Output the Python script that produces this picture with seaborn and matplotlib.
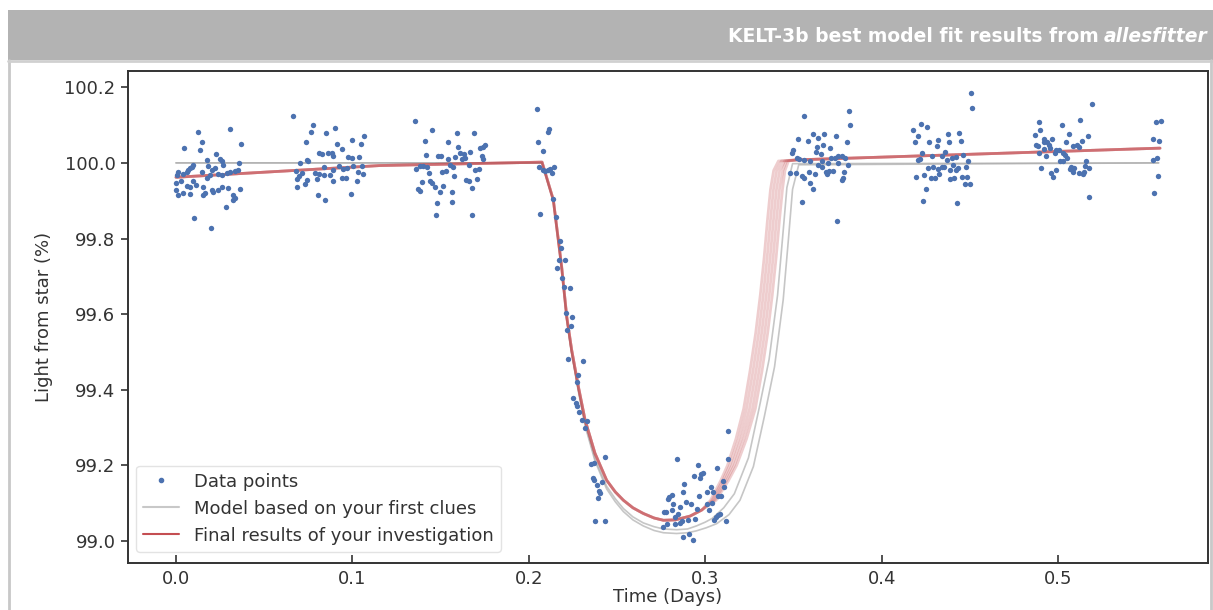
import matplotlib
matplotlib.use("Agg")
import matplotlib.pyplot as plt
import seaborn as sns
import pandas as pd
from matplotlib.lines import Line2D
from matplotlib.patches import Rectangle

# --- measured light curve (time in days, light from star in %), grouped by observing chunk
c1_t = [0.0127, 0.0306, 0.0146, 0.0047, 0.0136, 0.0368, 0.0227, 0.0249, 0.0259, 0.0174,
        0.0098, 0.0089, 0.0079, 0.0070, 0.0060, 0.0013, 0.0004, 0.0042, 0.0146, 0.0202,
        0.0221, 0.0268, 0.0259, 0.0240, 0.0287, 0.0306, 0.0334, 0.0353, 0.0359, 0.0026,
        0.0098, 0.0113, 0.0079, 0.0060, 0.0174, 0.0193, 0.0155, 0.0202, 0.0164, 0.0212,
        0.0240, 0.0259, 0.0297, 0.0363, 0.0000, 0.0013, 0.0042, 0.0079, 0.0155, 0.0325,
        0.0334, 0.0321, 0.0283, 0.0102, 0.0197, 0.0000, 0.0183]
c1_f = [100.083, 100.090, 100.056, 100.039, 100.034, 100.050, 100.024, 100.010, 100.004, 100.008,
        99.995, 99.990, 99.986, 99.981, 99.977, 99.977, 99.968, 99.971, 99.977, 99.981,
        99.986, 99.995, 99.968, 99.971, 99.973, 99.977, 99.979, 99.981, 99.999, 99.951,
        99.951, 99.942, 99.936, 99.939, 99.959, 99.968, 99.937, 99.929, 99.920, 99.924,
        99.929, 99.937, 99.933, 99.930, 99.929, 99.915, 99.920, 99.917, 99.915, 99.915,
        99.907, 99.902, 99.883, 99.854, 99.827, 99.948, 99.992]

c2_t = [0.0665, 0.0775, 0.0763, 0.0901, 0.0848, 0.1066, 0.0735, 0.0998, 0.0913, 0.1050,
        0.0939, 0.0813, 0.0830, 0.0864, 0.0887, 0.0892, 0.0977, 0.0996, 0.1038, 0.0741,
        0.0750, 0.0703, 0.0680, 0.0713, 0.0699, 0.0790, 0.0808, 0.0837, 0.0839, 0.0873,
        0.0892, 0.0926, 0.0945, 0.0967, 0.1005, 0.1052, 0.1033, 0.1058, 0.0939, 0.0964,
        0.0888, 0.0798, 0.0684, 0.0688, 0.0731, 0.1024, 0.0803, 0.0845, 0.0992, 0.0741]
c2_f = [100.124, 100.101, 100.083, 100.093, 100.080, 100.072, 100.054, 100.061, 100.049, 100.050,
        100.036, 100.026, 100.024, 100.027, 100.026, 100.019, 100.015, 100.012, 100.015, 100.008,
        100.004, 99.999, 99.979, 99.973, 99.966, 99.974, 99.971, 99.990, 99.968, 99.968,
        99.981, 99.993, 99.983, 99.986, 99.992, 99.992, 99.977, 99.971, 99.959, 99.959,
        99.952, 99.958, 99.957, 99.936, 99.944, 99.951, 99.914, 99.902, 99.917, 99.955]

c3_t = [0.1355, 0.1453, 0.1412, 0.1595, 0.1691, 0.1544, 0.1601, 0.1723, 0.1752, 0.1738,
        0.1417, 0.1487, 0.1500, 0.1540, 0.1582, 0.1610, 0.1632, 0.1666, 0.1619, 0.1638,
        0.1733, 0.1742, 0.1361, 0.1383, 0.1402, 0.1421, 0.1553, 0.1572, 0.1663, 0.1695,
        0.1719, 0.1436, 0.1506, 0.1531, 0.1578, 0.1440, 0.1453, 0.1469, 0.1515, 0.1393,
        0.1374, 0.1383, 0.1497, 0.1563, 0.1644, 0.1663, 0.1676, 0.1704, 0.1482, 0.1567,
        0.1474, 0.1680]
c3_f = [100.112, 100.086, 100.059, 100.080, 100.080, 100.056, 100.041, 100.039, 100.048, 100.043,
        100.021, 100.017, 100.019, 100.011, 100.015, 100.026, 100.023, 100.028, 100.011, 100.012,
        100.017, 100.011, 99.984, 99.993, 99.993, 99.988, 99.995, 99.988, 99.995, 99.981,
        99.984, 99.973, 99.975, 99.979, 99.966, 99.952, 99.946, 99.937, 99.940, 99.949,
        99.930, 99.927, 99.924, 99.922, 99.955, 99.951, 99.933, 99.958, 99.893, 99.896,
        99.861, 99.861]

# ingress and bottom of the transit
tr_t = [0.2045, 0.2107, 0.2115, 0.2050, 0.2078, 0.2059, 0.2078, 0.2092, 0.2111, 0.2130,
        0.2143, 0.2120, 0.2063, 0.2135, 0.2154, 0.2177, 0.2183, 0.2173, 0.2205, 0.2162,
        0.2188, 0.2201, 0.2234, 0.2211, 0.2247, 0.2239, 0.2218, 0.2224, 0.2309, 0.2281,
        0.2271, 0.2253, 0.2268, 0.2271, 0.2285, 0.2300, 0.2332, 0.2319, 0.2434, 0.2351,
        0.2372, 0.2362, 0.2370, 0.2385, 0.2413, 0.2400, 0.2404, 0.2395, 0.2374, 0.2432]
tr_f = [100.142, 100.083, 100.089, 100.054, 100.032, 99.988, 99.981, 99.979, 99.981, 99.973,
        99.988, 99.984, 99.865, 99.905, 99.856, 99.794, 99.774, 99.742, 99.743, 99.723,
        99.695, 99.671, 99.669, 99.602, 99.592, 99.569, 99.558, 99.481, 99.476, 99.439,
        99.421, 99.377, 99.364, 99.357, 99.340, 99.320, 99.318, 99.298, 99.223, 99.204,
        99.206, 99.167, 99.161, 99.148, 99.157, 99.133, 99.128, 99.115, 99.054, 99.053]

bot_t = [0.2842, 0.2957, 0.3131, 0.3127, 0.3069, 0.2938, 0.2976, 0.2985, 0.2970, 0.2882,
         0.3103, 0.3109, 0.3031, 0.3008, 0.3046, 0.2967, 0.3074, 0.3090, 0.2797, 0.2810,
         0.2876, 0.2791, 0.2819, 0.2857, 0.2891, 0.2919, 0.3008, 0.3036, 0.3023, 0.2952,
         0.2778, 0.2768, 0.2810, 0.2848, 0.2829, 0.3084, 0.3074, 0.3061, 0.3052, 0.3116,
         0.2904, 0.2942, 0.2867, 0.2857, 0.2831, 0.2782, 0.2763, 0.2873, 0.2910, 0.2929]
bot_f = [99.218, 99.201, 99.292, 99.216, 99.192, 99.172, 99.177, 99.181, 99.166, 99.151,
         99.159, 99.144, 99.142, 99.130, 99.130, 99.119, 99.119, 99.119, 99.117, 99.122,
         99.130, 99.111, 99.098, 99.091, 99.104, 99.098, 99.098, 99.101, 99.082, 99.084,
         99.076, 99.076, 99.082, 99.071, 99.064, 99.071, 99.069, 99.063, 99.055, 99.053,
         99.055, 99.058, 99.053, 99.049, 99.044, 99.045, 99.037, 99.012, 99.018, 99.002]

c4_t = [0.3815, 0.3821, 0.3562, 0.3613, 0.3675, 0.3741, 0.3528, 0.3581, 0.3641, 0.3806,
        0.3632, 0.3670, 0.3707, 0.3500, 0.3494, 0.3628, 0.3654, 0.3519, 0.3534, 0.3711,
        0.3736, 0.3755, 0.3777, 0.3792, 0.3594, 0.3559, 0.3660, 0.3641, 0.3660, 0.3698,
        0.3755, 0.3811, 0.3684, 0.3703, 0.3726, 0.3688, 0.3787, 0.3481, 0.3513, 0.3590,
        0.3622, 0.3549, 0.3558, 0.3779, 0.3774, 0.3594, 0.3609, 0.3547, 0.3745]
c4_f = [100.138, 100.099, 100.123, 100.077, 100.077, 100.071, 100.063, 100.059, 100.065, 100.054,
        100.043, 100.046, 100.039, 100.034, 100.026, 100.030, 100.023, 100.012, 100.011, 100.014,
        100.014, 100.017, 100.019, 100.014, 100.005, 100.008, 100.005, 99.995, 99.988, 99.999,
        99.999, 99.995, 99.977, 99.979, 99.979, 99.971, 99.975, 99.974, 99.973, 99.977,
        99.971, 99.966, 99.961, 99.961, 99.955, 99.946, 99.930, 99.896, 99.847]

c5_t = [0.4507, 0.4515, 0.4222, 0.4256, 0.4180, 0.4204, 0.4375, 0.4441, 0.4189, 0.4269,
        0.4318, 0.4382, 0.4450, 0.4316, 0.4227, 0.4284, 0.4341, 0.4359, 0.4463, 0.4208,
        0.4218, 0.4369, 0.4397, 0.4422, 0.4492, 0.4403, 0.4261, 0.4293, 0.4321, 0.4341,
        0.4356, 0.4388, 0.4435, 0.4478, 0.4420, 0.4193, 0.4240, 0.4278, 0.4304, 0.4327,
        0.4388, 0.4410, 0.4458, 0.4482, 0.4472, 0.4501, 0.4252, 0.4233, 0.4425]
c5_f = [100.184, 100.145, 100.102, 100.096, 100.086, 100.071, 100.076, 100.078, 100.054, 100.055,
        100.061, 100.055, 100.058, 100.045, 100.026, 100.019, 100.019, 100.029, 100.021, 100.008,
        100.010, 100.008, 100.012, 100.015, 100.004, 99.995, 99.986, 99.990, 99.983, 99.988,
        99.989, 99.981, 99.986, 99.989, 99.980, 99.962, 99.968, 99.959, 99.959, 99.971,
        99.958, 99.959, 99.964, 99.964, 99.944, 99.944, 99.930, 99.898, 99.893]

c6_t = [0.5191, 0.5125, 0.4892, 0.4898, 0.5024, 0.4870, 0.5062, 0.5172, 0.4922, 0.4964,
        0.5045, 0.5138, 0.4936, 0.4875, 0.4888, 0.4918, 0.4950, 0.5083, 0.5110, 0.5121,
        0.4920, 0.4954, 0.4988, 0.5007, 0.4890, 0.4983, 0.5030, 0.5039, 0.4932, 0.5052,
        0.5011, 0.5030, 0.5159, 0.5150, 0.5178, 0.5073, 0.5092, 0.5068, 0.5083, 0.5121,
        0.5144, 0.5149, 0.4902, 0.4988, 0.4960, 0.4973, 0.5178]
c6_f = [100.155, 100.114, 100.107, 100.087, 100.099, 100.074, 100.077, 100.072, 100.063, 100.063,
        100.056, 100.059, 100.056, 100.048, 100.045, 100.054, 100.048, 100.045, 100.048, 100.041,
        100.036, 100.039, 100.033, 100.033, 100.026, 100.026, 100.026, 100.021, 100.017, 100.012,
        100.006, 100.004, 100.004, 99.992, 99.986, 99.990, 99.986, 99.983, 99.977, 99.973,
        99.971, 99.977, 99.986, 99.981, 99.973, 99.962, 99.911]

c7_t = [0.5555, 0.5584, 0.5540, 0.5574, 0.5536, 0.5563, 0.5568, 0.5544]
c7_f = [100.109, 100.112, 100.063, 100.058, 100.008, 100.012, 99.966, 99.920]

# --- "first clues" models (grey)
clue_t = [
    [0.0, 0.2075, 0.2139, 0.2186, 0.2215, 0.2243, 0.2281, 0.2319, 0.2375, 0.2441, 0.2490,
     0.2536, 0.2590, 0.2649, 0.2710, 0.2763, 0.2838, 0.2900, 0.2950, 0.3005, 0.3065, 0.3135,
     0.3197, 0.3273, 0.3335, 0.3393, 0.3442, 0.3472, 0.3495, 0.3530, 0.5570],
    [0.0, 0.2075, 0.2139, 0.2186, 0.2215, 0.2243, 0.2281, 0.2319, 0.2375, 0.2441, 0.2490,
     0.2536, 0.2590, 0.2649, 0.2710, 0.2763, 0.2838, 0.2900, 0.2950, 0.3000, 0.3040, 0.3105,
     0.3165, 0.3245, 0.3305, 0.3362, 0.3410, 0.3440, 0.3463, 0.3495, 0.5570],
]
clue_f = [
    [100.0, 100.0, 99.900, 99.720, 99.585, 99.495, 99.395, 99.305, 99.212, 99.138, 99.104,
     99.078, 99.056, 99.040, 99.028, 99.022, 99.020, 99.022, 99.027, 99.035, 99.046, 99.070,
     99.108, 99.197, 99.329, 99.461, 99.638, 99.800, 99.930, 99.995, 100.0],
    [100.0, 100.0, 99.900, 99.722, 99.588, 99.499, 99.400, 99.310, 99.218, 99.145, 99.112,
     99.086, 99.064, 99.048, 99.038, 99.032, 99.030, 99.032, 99.040, 99.050, 99.060, 99.088,
     99.125, 99.220, 99.350, 99.480, 99.650, 99.810, 99.935, 99.998, 100.0],
]

# --- final fit (red): common baseline/ingress, posterior samples differ on egress
fit_pre_t = [0.0, 0.1156, 0.2075, 0.2139, 0.2186, 0.2215, 0.2243, 0.2281, 0.2319, 0.2375,
             0.2441, 0.2490, 0.2536, 0.2590, 0.2649, 0.2710, 0.2763, 0.2830, 0.2914, 0.2980]
fit_pre_f = [99.962, 99.993, 100.002, 99.902, 99.726, 99.593, 99.505, 99.408, 99.320, 99.232,
             99.161, 99.130, 99.108, 99.088, 99.073, 99.061, 99.055, 99.056, 99.066, 99.082]
fit_egress_f = [99.108, 99.160, 99.200, 99.270, 99.350, 99.450, 99.550, 99.650, 99.750,
                99.850, 99.930, 99.980, 100.005]
fit_egress_t = [
    [0.3030, 0.3088, 0.3126, 0.3174, 0.3218, 0.3254, 0.3286, 0.3312, 0.3334, 0.3353, 0.3370, 0.3388, 0.3415],
    [0.3038, 0.3099, 0.3139, 0.3189, 0.3234, 0.3271, 0.3303, 0.3329, 0.3351, 0.3370, 0.3387, 0.3405, 0.3432],
    [0.3046, 0.3110, 0.3152, 0.3204, 0.3251, 0.3288, 0.3320, 0.3346, 0.3368, 0.3387, 0.3404, 0.3422, 0.3450],
    [0.3054, 0.3121, 0.3165, 0.3219, 0.3268, 0.3305, 0.3337, 0.3363, 0.3385, 0.3404, 0.3421, 0.3439, 0.3460],
    [0.3062, 0.3132, 0.3178, 0.3234, 0.3284, 0.3322, 0.3354, 0.3380, 0.3402, 0.3421, 0.3438, 0.3452, 0.3472],
]
fit_post_t = [0.3520, 0.5578]
fit_post_f = [100.008, 100.039]

x_ticks = [0.0, 0.1, 0.2, 0.3, 0.4, 0.5]
y_ticks = [99.0, 99.2, 99.4, 99.6, 99.8, 100.0, 100.2]

BLUE = "#4c72b0"
RED = "#c44e52"
GREY = "#a8a8a8"
INK = "#333333"

sns.set_theme(style="ticks")
plt.rcParams['font.family'] = ['DejaVu Sans']

W, H = 1213, 610
fig = plt.figure(figsize=(W / 100, H / 100), dpi=100)
ax = fig.add_axes([128 / W, 1 - 563 / H, 1080 / W, 492 / H])

# page chrome: grey banner + frame lines
fig.patches.append(Rectangle((8 / W, 1 - 60 / H), 1205 / W, 50 / H, transform=fig.transFigure,
                             facecolor="#b3b3b3", edgecolor="none", zorder=0))
fig.add_artist(Line2D([9 / W, 9 / W], [0, 1 - 60 / H], transform=fig.transFigure, color="#c8c8c8", lw=2))
fig.add_artist(Line2D([8 / W, 1], [1 - 61 / H, 1 - 61 / H], transform=fig.transFigure, color="#d0d0d0", lw=2))
fig.add_artist(Line2D([1211 / W, 1211 / W], [0, 1 - 60 / H], transform=fig.transFigure, color="#c8c8c8", lw=2))

for t, f in zip(clue_t, clue_f):
    sns.lineplot(x=t, y=f, ax=ax, sort=False, estimator=None, color=GREY, lw=1.2, alpha=0.65, zorder=2)

for et in fit_egress_t:
    t = fit_pre_t + et + fit_post_t
    f = fit_pre_f + fit_egress_f + fit_post_f
    sns.lineplot(x=t, y=f, ax=ax, sort=False, estimator=None, color=RED, lw=2.0, alpha=0.28, zorder=2.5)

pts = pd.DataFrame({
    "time": c1_t + c2_t + c3_t + tr_t + bot_t + c4_t + c5_t + c6_t + c7_t,
    "flux": c1_f + c2_f + c3_f + tr_f + bot_f + c4_f + c5_f + c6_f + c7_f,
})
sns.scatterplot(data=pts, x="time", y="flux", ax=ax, color=BLUE, s=15, linewidth=0, zorder=3)

ax.set_xlim(-0.0272, 0.585)
ax.set_ylim(98.942, 100.243)
ax.set_xticks(x_ticks)
ax.set_yticks(y_ticks)
ax.set_xticklabels([f"{v:.1f}" for v in x_ticks])
ax.set_yticklabels([f"{v:.1f}" for v in y_ticks])
ax.tick_params(axis="x", direction="in", length=6, width=1.2, colors=INK, labelsize=13, pad=5)
ax.tick_params(axis="y", direction="out", length=5, width=1.2, colors=INK, labelsize=13, pad=4)
for s in ax.spines.values():
    s.set_visible(True)
    s.set_color(INK)
    s.set_linewidth(1.4)
ax.set_xlabel("Time (Days)", fontsize=13, color=INK, labelpad=0)
ax.set_ylabel("Light from star (%)", fontsize=13, color=INK, labelpad=8)

handles = [Line2D([], [], marker=".", ls="", color=BLUE, ms=6),
           Line2D([], [], color="#c8c8c8", lw=1.5),
           Line2D([], [], color=RED, lw=1.5)]
labels = ["Data points", "Model based on your first clues", "Final results of your investigation"]
ax.legend(handles, labels, loc="lower left", bbox_to_anchor=(0.004, 0.015), fontsize=13,
          frameon=True, framealpha=0.8, edgecolor="#dddddd", labelspacing=0.5,
          handlelength=2.0, borderaxespad=0.2, labelcolor=INK)

# banner title: bold, white, right aligned, last word italic
fig.canvas.draw()
rend = fig.canvas.get_renderer()
ty = 1 - 36 / H
tail = fig.text(1207 / W, ty, "allesfitter", ha="right", va="center", color="white",
                fontsize=13.5, fontweight="bold", fontstyle="italic")
bb = tail.get_window_extent(rend)
fig.text((bb.x0 - 5) / W, ty, "KELT-3b best model fit results from", ha="right", va="center",
         color="white", fontsize=13.5, fontweight="bold")

fig.savefig("out.png", dpi=100)
